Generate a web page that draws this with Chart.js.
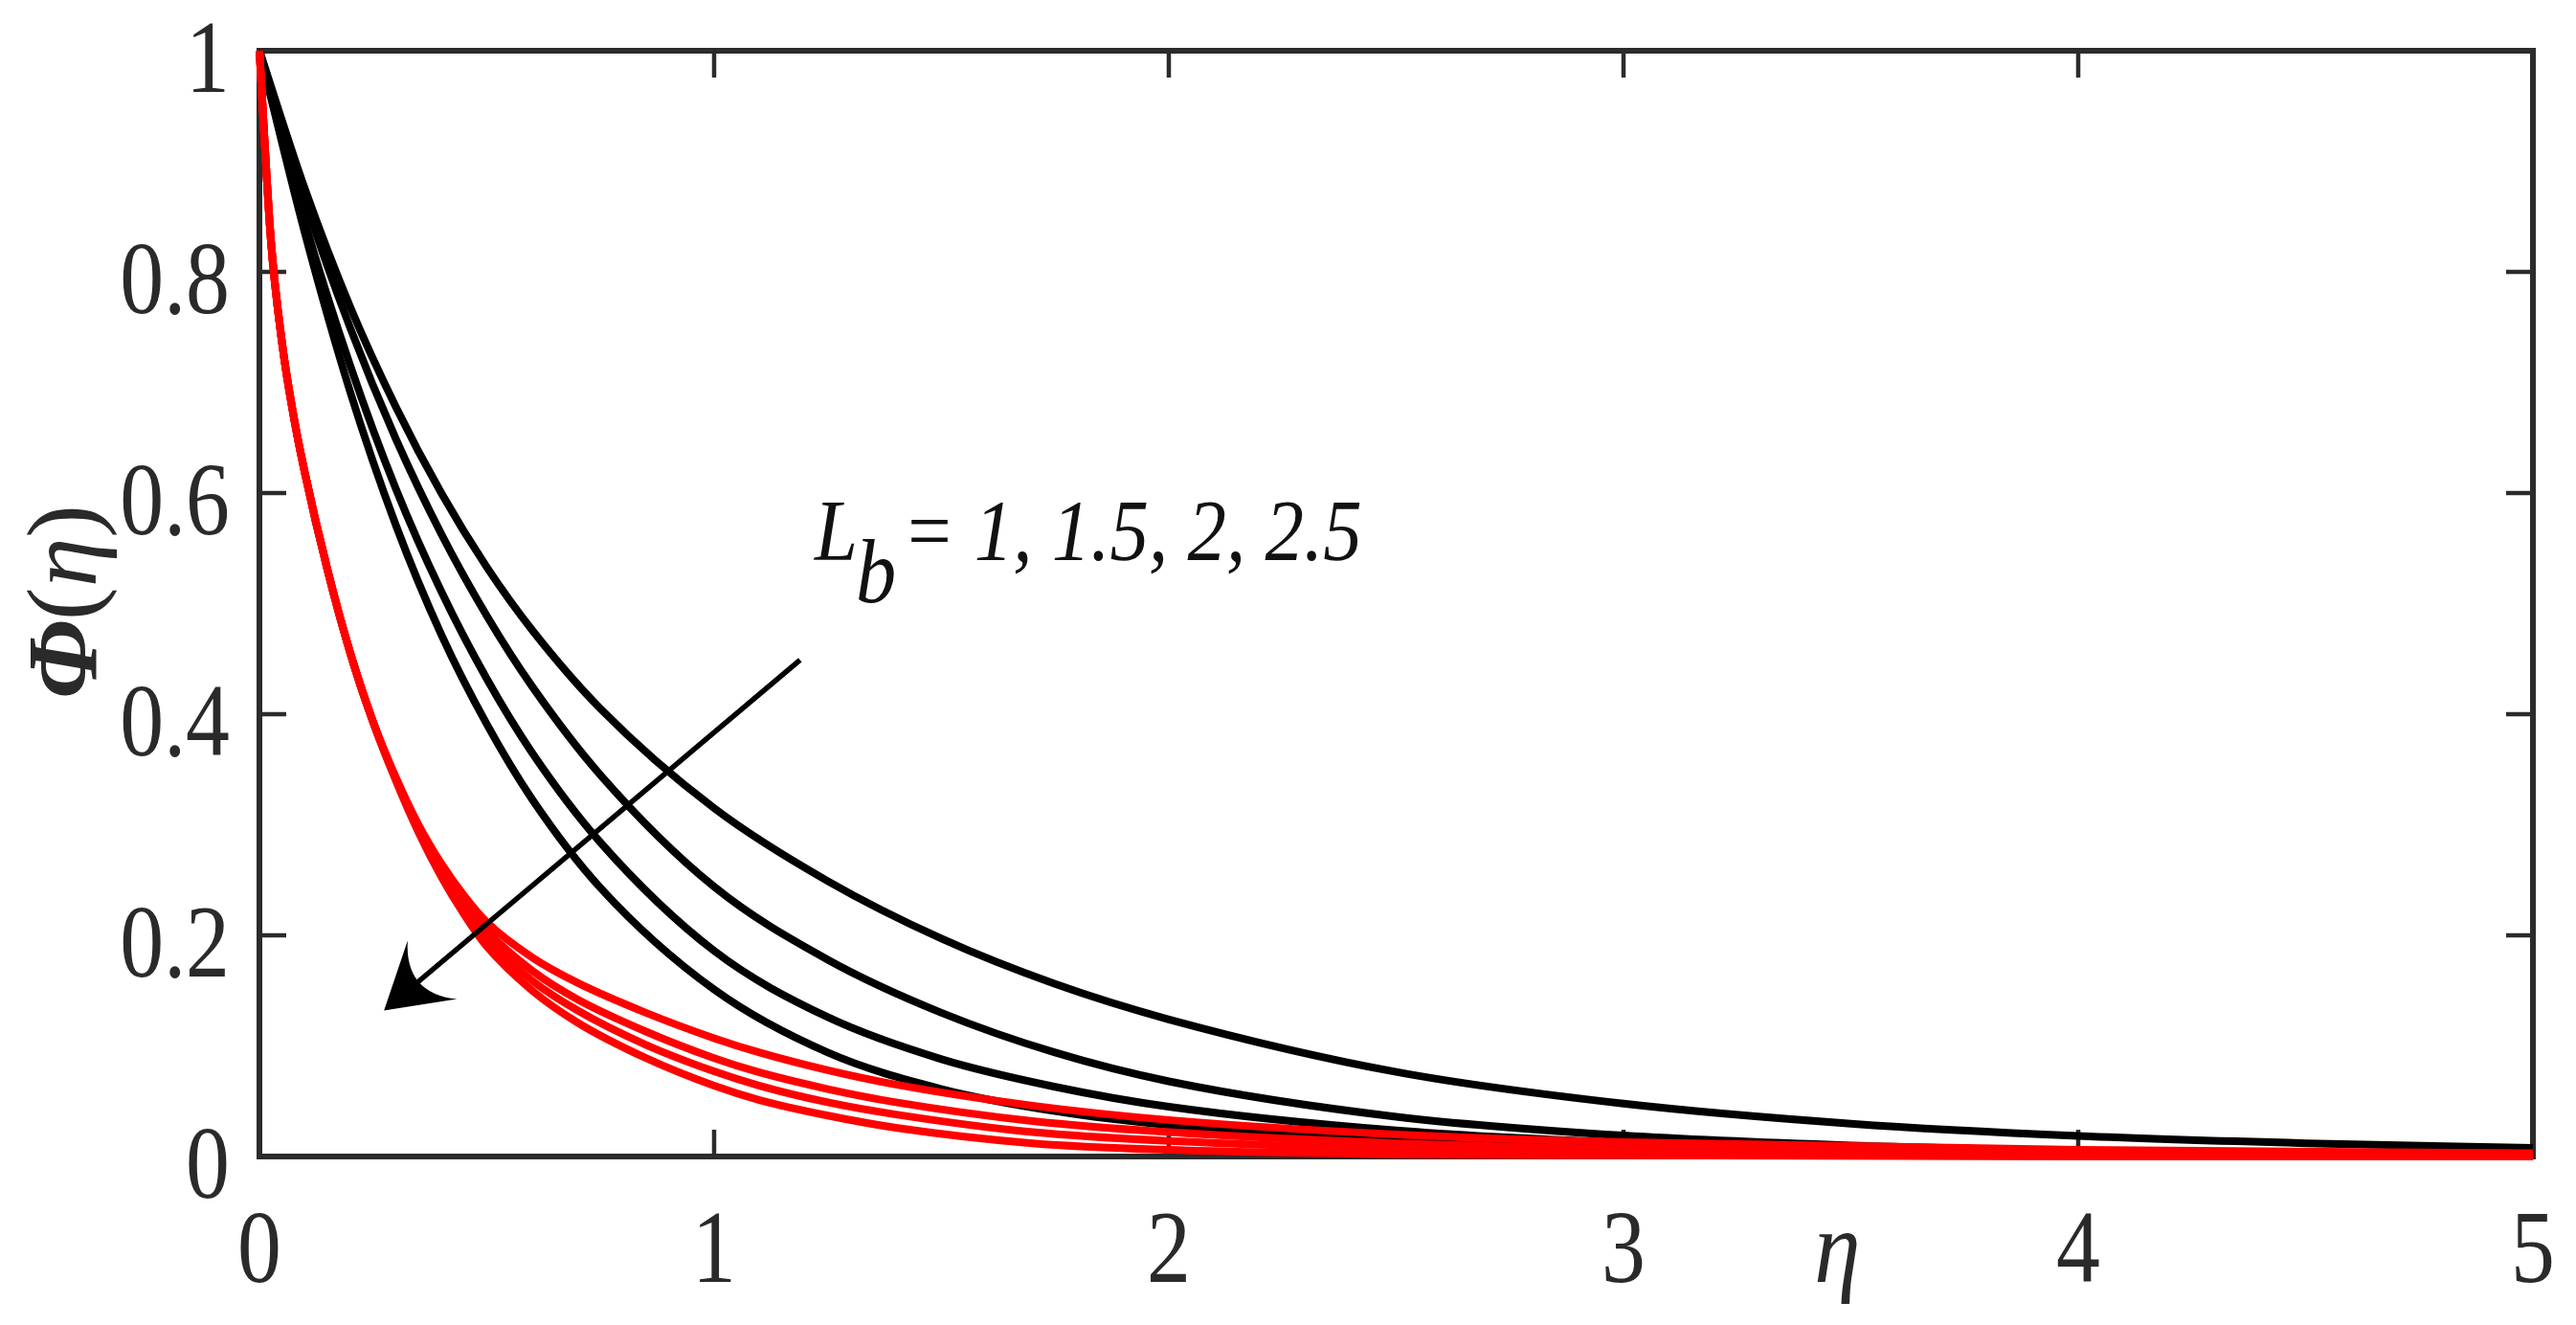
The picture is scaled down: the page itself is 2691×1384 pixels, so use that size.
<!DOCTYPE html>
<html>
<head>
<meta charset="utf-8">
<title>Phi(eta) profiles</title>
<script src="https://cdn.jsdelivr.net/npm/chart.js@4.4.1/dist/chart.umd.min.js"></script>
<style>
  html, body { margin: 0; padding: 0; background: #ffffff; }
  #wrap { width: 2691px; height: 1384px; }
</style>
</head>
<body>
<div id="wrap"><canvas id="phi-chart"></canvas></div>
<script>
// values
const etaBlack = [0, 0.1, 0.2, 0.3, 0.4, 0.5, 0.6, 0.75, 1.0, 1.25, 1.5, 1.75, 2.0, 2.5, 3.0, 3.5, 4.0, 4.5, 5.0]
const black1 = [1, 0.875, 0.768, 0.678, 0.600, 0.533, 0.476, 0.405, 0.315, 0.249, 0.197, 0.156, 0.124, 0.0765, 0.0478, 0.0297, 0.0186, 0.012, 0.0078]
const black2 = [1, 0.865, 0.749, 0.649, 0.563, 0.489, 0.425, 0.345, 0.244, 0.178, 0.130, 0.094, 0.068, 0.036, 0.019, 0.010, 0.0053, 0.0028, 0.0015]
const black3 = [1, 0.845, 0.715, 0.604, 0.511, 0.432, 0.365, 0.284, 0.186, 0.126, 0.088, 0.063, 0.045, 0.0235, 0.0123, 0.0064, 0.0033, 0.0017, 0.0009]
const black4 = [1, 0.835, 0.691, 0.571, 0.472, 0.391, 0.323, 0.243, 0.151, 0.094, 0.061, 0.041, 0.0284, 0.0146, 0.0076, 0.004, 0.0021, 0.0011, 0.0006]

const etaRed = [0, 0.025, 0.05, 0.075, 0.1, 0.15, 0.2, 0.25, 0.3, 0.35, 0.4, 0.45, 0.5, 0.6, 0.7, 0.85, 1.0, 1.1, 1.25, 1.4, 1.7, 2.0, 2.5, 3.0, 4.0, 5.0]
const red1 = [1, 0.83, 0.735, 0.67, 0.618, 0.53, 0.455, 0.393, 0.343, 0.300, 0.265, 0.236, 0.212, 0.180, 0.157, 0.130, 0.107, 0.094, 0.078, 0.065, 0.046, 0.033, 0.020, 0.013, 0.006, 0.003]
const red2 = [1, 0.83, 0.735, 0.67, 0.618, 0.53, 0.455, 0.393, 0.342, 0.297, 0.260, 0.229, 0.204, 0.168, 0.142, 0.113, 0.089, 0.076, 0.061, 0.049, 0.032, 0.022, 0.012, 0.007, 0.003, 0.001]
const red3 = [1, 0.83, 0.735, 0.67, 0.618, 0.53, 0.455, 0.393, 0.341, 0.295, 0.256, 0.224, 0.197, 0.159, 0.132, 0.101, 0.077, 0.064, 0.049, 0.038, 0.022, 0.014, 0.007, 0.004, 0.001, 0]
const red4 = [1, 0.83, 0.735, 0.67, 0.618, 0.53, 0.455, 0.393, 0.340, 0.293, 0.253, 0.219, 0.190, 0.150, 0.121, 0.089, 0.064, 0.051, 0.037, 0.026, 0.012, 0.006, 0.002, 0.001, 0, 0]

const xTicks = [0, 1, 2, 3, 4, 5]
const xTickLabels = ['0', '1', '2', '3', '4', '5']
const yTicks = [0, 0.2, 0.4, 0.6, 0.8, 1]
const yTickLabels = ['0', '0.2', '0.4', '0.6', '0.8', '1']

const annotationLabel = '= 1, 1.5, 2, 2.5'
const arrowTail = [1.189, 0.449]
const arrowTip = [0.274, 0.132]

const SERIF = "'Liberation Serif', 'Times New Roman', serif"
const INK = '#2a2a2a'

const toPoints = (xs, ys) => xs.map((x, i) => ({ x: x, y: ys[i] }))

const lineSet = (xs, ys, color, order) => ({
  data: toPoints(xs, ys),
  borderColor: color,
  backgroundColor: color,
  borderWidth: 8,
  pointRadius: 0,
  cubicInterpolationMode: 'monotone',
  clip: 10,
  order: order,
})

// draws a string squeezed horizontally, like the narrow serif of the figure
const squeezeText = (ctx, text, x, y, font, sx, align) => {
  ctx.save()
  ctx.font = font
  ctx.translate(x, y)
  ctx.scale(sx, 1)
  ctx.textAlign = align
  ctx.textBaseline = 'alphabetic'
  ctx.fillText(text, 0, 0)
  ctx.restore()
}

const framePlugin = {
  id: 'frame',
  beforeDatasetsDraw(chart) {
    const { ctx, chartArea: a, scales } = chart
    ctx.save()
    ctx.strokeStyle = '#2b2b2b'
    ctx.lineWidth = 4.5
    const tl = 28
    xTicks.forEach((v) => {
      const px = scales.x.getPixelForValue(v)
      ctx.beginPath()
      ctx.moveTo(px, a.bottom)
      ctx.lineTo(px, a.bottom - tl)
      ctx.moveTo(px, a.top)
      ctx.lineTo(px, a.top + tl)
      ctx.stroke()
    })
    yTicks.forEach((v) => {
      const py = scales.y.getPixelForValue(v)
      ctx.beginPath()
      ctx.moveTo(a.left, py)
      ctx.lineTo(a.left + tl, py)
      ctx.moveTo(a.right, py)
      ctx.lineTo(a.right - tl, py)
      ctx.stroke()
    })
    ctx.lineWidth = 6
    ctx.strokeRect(a.left, a.top, a.right - a.left, a.bottom - a.top)
    ctx.restore()
  },
  afterDatasetsDraw(chart) {
    const { ctx, chartArea: a, scales } = chart
    const sx = scales.x, sy = scales.y
    ctx.save()
    ctx.fillStyle = INK

    // tick labels
    xTicks.forEach((v, i) => {
      squeezeText(ctx, xTickLabels[i], sx.getPixelForValue(v), a.bottom + 131, `108px ${SERIF}`, 0.85, 'center')
    })
    yTicks.forEach((v, i) => {
      squeezeText(ctx, yTickLabels[i], a.left - 31, sy.getPixelForValue(v) + 43, `108px ${SERIF}`, 0.85, 'right')
    })

    // x axis title, sits between 3 and 4
    squeezeText(ctx, 'η', sx.getPixelForValue(3.47), a.bottom + 131, `italic 108px ${SERIF}`, 0.9, 'center')

    // y axis title, rotated
    ctx.save()
    ctx.translate(a.left - 171, a.top + 677)
    ctx.rotate(-Math.PI / 2)
    ctx.textBaseline = 'alphabetic'
    ctx.textAlign = 'left'
    let cx = 0
    const parts = [
      ['Φ', `italic bold 104px ${SERIF}`],
      ['(', `104px ${SERIF}`],
      ['η', `italic 104px ${SERIF}`],
      [')', `104px ${SERIF}`],
    ]
    parts.forEach(([t, f]) => {
      ctx.font = f
      ctx.fillText(t, cx, 0)
      cx += ctx.measureText(t).width
    })
    ctx.restore()

    // parameter label
    ctx.fillStyle = '#111111'
    squeezeText(ctx, 'L', sx.getPixelForValue(1.221), sy.getPixelForValue(0.5394), `italic 92px ${SERIF}`, 0.88, 'left')
    squeezeText(ctx, 'b', sx.getPixelForValue(1.3116), sy.getPixelForValue(0.5013), `italic 96px ${SERIF}`, 0.88, 'left')
    squeezeText(ctx, annotationLabel, sx.getPixelForValue(1.4147), sy.getPixelForValue(0.5394), `italic 92px ${SERIF}`, 0.88, 'left')

    // arrow with a swept-back head
    const x0 = sx.getPixelForValue(arrowTail[0]), y0 = sy.getPixelForValue(arrowTail[1])
    const x1 = sx.getPixelForValue(arrowTip[0]), y1 = sy.getPixelForValue(arrowTip[1])
    const len = Math.hypot(x1 - x0, y1 - y0)
    const ux = (x1 - x0) / len, uy = (y1 - y0) / len
    const px = -uy, py = ux
    const headLen = 66, halfW = 40, ctrl = 28
    ctx.strokeStyle = '#000000'
    ctx.fillStyle = '#000000'
    ctx.lineWidth = 5.5
    ctx.beginPath()
    ctx.moveTo(x0, y0)
    ctx.lineTo(x1 - ux * 42, y1 - uy * 42)
    ctx.stroke()
    ctx.beginPath()
    ctx.moveTo(x1, y1)
    ctx.lineTo(x1 - ux * headLen + px * halfW, y1 - uy * headLen + py * halfW)
    ctx.quadraticCurveTo(x1 - ux * ctrl, y1 - uy * ctrl,
      x1 - ux * headLen - px * halfW, y1 - uy * headLen - py * halfW)
    ctx.closePath()
    ctx.fill()
    ctx.restore()
  },
}

const config = {
  type: 'line',
  data: {
    datasets: [
      lineSet(etaRed, red1, '#ff0000', 0),
      lineSet(etaRed, red2, '#ff0000', 0),
      lineSet(etaRed, red3, '#ff0000', 0),
      lineSet(etaRed, red4, '#ff0000', 0),
      lineSet(etaBlack, black1, '#000000', 1),
      lineSet(etaBlack, black2, '#000000', 1),
      lineSet(etaBlack, black3, '#000000', 1),
      lineSet(etaBlack, black4, '#000000', 1),
    ],
  },
  options: {
    responsive: true,
    maintainAspectRatio: false,
    devicePixelRatio: 1,
    animation: false,
    events: [],
    layout: { padding: { top: 53, right: 45, left: 0, bottom: 0 } },
    plugins: {
      legend: { display: false },
      tooltip: { enabled: false },
    },
    scales: {
      x: {
        type: 'linear',
        min: 0,
        max: 5,
        ticks: { stepSize: 1, display: false },
        grid: { display: false },
        border: { display: false },
        afterFit: (s) => { s.height = 176 },
      },
      y: {
        type: 'linear',
        min: 0,
        max: 1,
        ticks: { stepSize: 0.2, display: false },
        grid: { display: false },
        border: { display: false },
        afterFit: (s) => { s.width = 271 },
      },
    },
  },
  plugins: [framePlugin],
}

new Chart(document.querySelector('#phi-chart'), config)
</script>
</body>
</html>
